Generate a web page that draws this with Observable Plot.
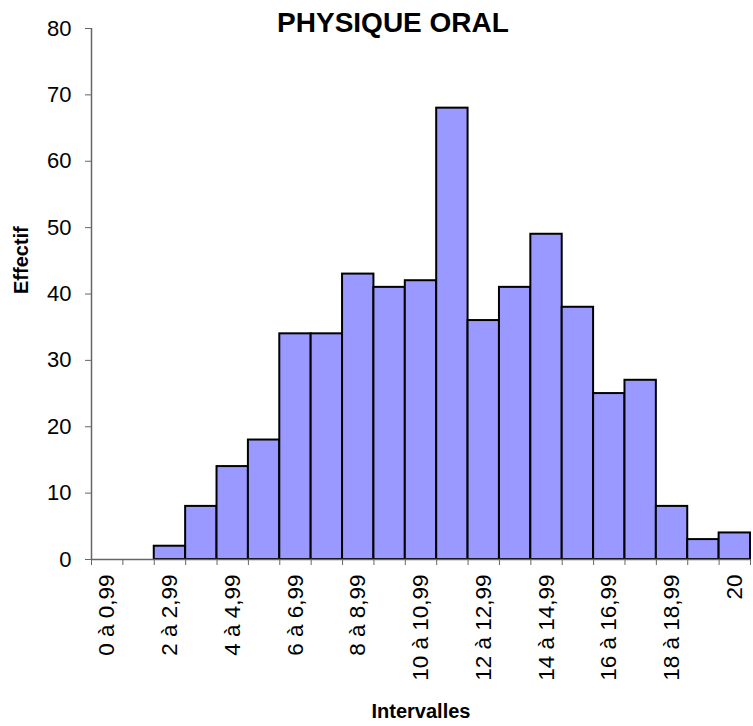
<!DOCTYPE html>
<html>
<head>
<meta charset="utf-8">
<script src="https://cdn.jsdelivr.net/npm/d3@7"></script>
<script src="https://cdn.jsdelivr.net/npm/@observablehq/plot@0.6"></script>
<style>
  html, body { margin: 0; padding: 0; background: #fff; }
  svg { display: block; }
</style>
</head>
<body>
<div id="chart"></div>
<script>
const title = "PHYSIQUE ORAL";
const yTitle = "Effectif";
const xTitle = "Intervalles";
const categories = [
  "0 à 0,99", "1 à 1,99", "2 à 2,99", "3 à 3,99", "4 à 4,99",
  "5 à 5,99", "6 à 6,99", "7 à 7,99", "8 à 8,99", "9 à 9,99",
  "10 à 10,99", "11 à 11,99", "12 à 12,99", "13 à 13,99", "14 à 14,99",
  "15 à 15,99", "16 à 16,99", "17 à 17,99", "18 à 18,99", "19 à 19,99", "20"
];
const counts = [0, 0, 2, 8, 14, 18, 34, 34, 43, 41, 42, 68, 36, 41, 49, 38, 25, 27, 8, 3, 4];
const yTicks = [0, 10, 20, 30, 40, 50, 60, 70, 80];

const data = categories.map((c, i) => ({cat: c, idx: i, n: counts[i]}));
const font = "'Liberation Sans', Arial, sans-serif";
const axisGray = "#666";

const chart = Plot.plot({
  width: 753,
  height: 726,
  marginLeft: 91,
  marginRight: 3,
  marginTop: 28,
  marginBottom: 167,
  style: {fontFamily: font, background: "#fff", color: "#000"},
  x: {type: "linear", domain: [0, categories.length]},
  y: {domain: [0, 80]},
  marks: [
    Plot.rectY(data.filter(d => d.n > 0), {
      x1: d => d.idx, x2: d => d.idx + 1, y: "n",
      fill: "#9999FF", stroke: "#000", strokeWidth: 2
    }),
    Plot.ruleY([0], {stroke: axisGray, strokeWidth: 1.5}),
    Plot.ruleX([0], {stroke: axisGray, strokeWidth: 1.5}),
    Plot.axisY({ticks: yTicks, tickSize: 6, tickPadding: 14, fontSize: 22, stroke: axisGray, label: null, tickFormat: d => String(d)}),
    Plot.axisX({ticks: d3.range(categories.length + 1), tickSize: 6, tickFormat: () => "", stroke: axisGray, label: null}),
    Plot.axisX({
      ticks: data.filter(d => d.idx % 2 === 0).map(d => d.idx + 0.5),
      tickFormat: v => categories[Math.floor(v)],
      tickSize: 0, tickPadding: 15, tickRotate: -90, fontSize: 22.5, label: null
    }),
    Plot.text([title], {frameAnchor: "top", dx: -28, dy: -5, lineAnchor: "middle", fontSize: 28, fontWeight: "bold"}),
    Plot.text([yTitle], {frameAnchor: "left", dx: -70, rotate: -90, fontSize: 20, fontWeight: "bold"}),
    Plot.text([xTitle], {frameAnchor: "bottom", dy: 152, lineAnchor: "middle", fontSize: 20, fontWeight: "bold"})
  ]
});
document.getElementById("chart").appendChild(chart);
</script>
</body>
</html>
